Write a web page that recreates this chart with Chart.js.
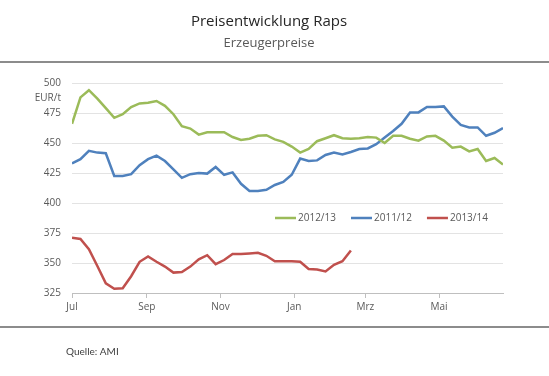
<!DOCTYPE html>
<html>
<head>
<meta charset="utf-8">
<script src="https://cdn.jsdelivr.net/npm/chart.js@4.4.1/dist/chart.umd.min.js"></script>
<style>
  body { margin: 0; background: #fff; }
  canvas { display: block; }
</style>
</head>
<body>
<canvas id="chart" width="549" height="376"></canvas>
<script>
// Weekly producer prices for rapeseed, EUR/t, starting in July
const monthLabels = ["Jul", "Sep", "Nov", "Jan", "Mrz", "Mai"];
const monthStartDays = [0, 62, 123, 184, 243, 304];

const prices2012 = [
  466, 488, 494, 487, 479, 471, 474, 480, 483, 483.5, 485, 481, 474, 464, 462, 457,
  459, 459, 459, 455, 452.5, 453.5, 456, 456.5, 453, 451, 447, 442, 445, 451.5, 454, 456.5,
  454, 453.5, 454, 455, 454.5, 450, 456, 456, 453.5, 452, 455.5, 456, 452, 446, 447, 443,
  445, 435, 437.5, 432,
];
const prices2011 = [
  433, 436.5, 443.5, 442, 441.5, 422.5, 422.5, 424, 431.5, 436.5, 439.5, 435, 428, 421, 424, 425,
  424.5, 430, 423.5, 425.5, 416, 410, 410, 411, 415, 417.5, 423.5, 437, 435, 435.5, 440, 442,
  440.5, 442.5, 445, 445.5, 449, 454.5, 460, 466, 475.5, 475.5, 480, 480, 480.5, 472, 465, 463,
  463, 456, 458.5, 462.5,
];
const prices2013 = [
  371, 370, 361.5, 347.5, 333, 328.5, 329, 339, 351, 355.5, 351, 347, 342, 342.5, 347, 353,
  356.5, 349, 352.5, 357.5, 357.5, 358, 358.5, 356, 351.5, 351.5, 351.5, 351, 345, 344.5, 343, 348.5,
  351.5, 360.5,
];

const textColor = "#595959";
const toPoints = (values) => values.map((v, i) => ({ x: i * 7, y: v }));

const decorations = {
  id: "decorations",
  afterDraw(chart) {
    const { ctx, chartArea } = chart;
    ctx.save();

    // header
    ctx.textAlign = "center";
    ctx.textBaseline = "middle";
    ctx.fillStyle = "#262626";
    ctx.font = "15px 'Open Sans'";
    ctx.fillText("Preisentwicklung Raps", 269, 22);
    ctx.fillStyle = "#595959";
    ctx.font = "13px 'Open Sans'";
    ctx.fillText("Erzeugerpreise", 269, 43);

    // separators
    ctx.strokeStyle = "#8c8c8c";
    ctx.lineWidth = 2;
    [62, 327].forEach((y) => {
      ctx.beginPath();
      ctx.moveTo(0, y);
      ctx.lineTo(549, y);
      ctx.stroke();
    });

    // unit
    ctx.fillStyle = textColor;
    ctx.font = "10px 'Open Sans'";
    ctx.textAlign = "right";
    ctx.fillText("EUR/t", chartArea.left - 11, chartArea.top + 15);

    // legend inside the plot
    const order = [0, 1, 2];
    let x = chartArea.left + 203;
    const y = chartArea.top + 135;
    ctx.textAlign = "left";
    order.forEach((idx) => {
      const ds = chart.data.datasets[idx];
      ctx.strokeStyle = ds.borderColor;
      ctx.lineWidth = 2.5;
      ctx.beginPath();
      ctx.moveTo(x, y);
      ctx.lineTo(x + 21, y);
      ctx.stroke();
      ctx.fillStyle = textColor;
      ctx.fillText(ds.label, x + 23, y);
      x += 23 + ctx.measureText(ds.label).width + 15;
    });

    // source
    ctx.fillStyle = "#404040";
    ctx.font = "10px Lato";
    ctx.fillText("Quelle: AMI", 66, 352);
    ctx.restore();
  },
};

Chart.defaults.font.family = "'Open Sans', sans-serif";

new Chart(document.getElementById("chart"), {
  type: "line",
  data: {
    datasets: [
      { label: "2012/13", data: toPoints(prices2012), borderColor: "#9bbb59" },
      { label: "2011/12", data: toPoints(prices2011), borderColor: "#4f81bd" },
      { label: "2013/14", data: toPoints(prices2013), borderColor: "#c0504d" },
    ],
  },
  options: {
    responsive: false,
    animation: false,
    layout: { padding: { top: 83, right: 46, bottom: 53, left: 0 } },
    datasets: {
      line: { borderWidth: 2.5, pointRadius: 0, tension: 0, fill: false },
    },
    plugins: {
      legend: { display: false },
      title: { display: false },
      tooltip: { enabled: false },
    },
    scales: {
      x: {
        type: "linear",
        min: 0,
        max: 357,
        afterBuildTicks: (axis) => {
          axis.ticks = monthStartDays.map((v) => ({ value: v }));
        },
        afterFit: (axis) => {
          axis.height = 30;
        },
        grid: { drawOnChartArea: false, drawTicks: true, tickLength: 5, color: "#bfbfbf" },
        border: { color: "#bfbfbf", width: 1 },
        ticks: {
          autoSkip: false,
          maxRotation: 0,
          padding: 3,
          color: textColor,
          font: { size: 10 },
          callback: (value) => monthLabels[monthStartDays.indexOf(value)],
        },
      },
      y: {
        min: 325,
        max: 500,
        afterFit: (axis) => {
          axis.width = 72;
        },
        grid: {
          drawTicks: false,
          color: (ctx) => (ctx.tick && ctx.tick.value === 325 ? "rgba(0,0,0,0)" : "#e3e3e3"),
        },
        border: { display: false },
        ticks: { stepSize: 25, padding: 11, color: textColor, font: { size: 10 } },
      },
    },
  },
  plugins: [decorations],
});
</script>
</body>
</html>
